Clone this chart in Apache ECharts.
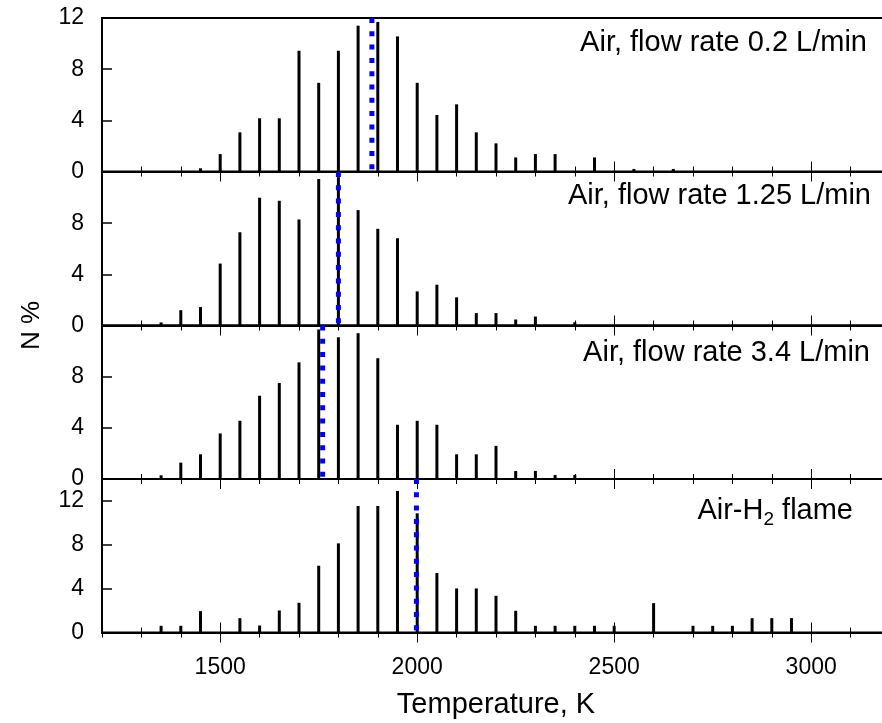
<!DOCTYPE html>
<html>
<head>
<meta charset="utf-8">
<script src="https://cdn.jsdelivr.net/npm/echarts@6/dist/echarts.min.js"></script>
<style>
html,body{margin:0;padding:0;background:#fff;overflow:hidden;}
#chart{width:900px;height:723px;}
</style>
</head>
<body>
<div id="chart"></div>
<script>
// Temperature bins (K)
const bins = [1350,1400,1450,1500,1550,1600,1650,1700,1750,1800,1850,1900,1950,2000,2050,2100,2150,2200,2250,2300,2350,2400,2450,2500,2550,2600,2650,2700,2750,2800,2850,2900,2950];
// N % per bin
const flow02 =  [0,0,0.25,1.36,3.06,4.16,4.16,9.44,6.93,9.44,11.4,11.69,10.56,6.93,4.42,5.25,3.06,2.2,1.1,1.36,1.36,0,1.1,0,0.2,0,0.2,0,0,0,0,0,0];
const flow125 = [0.24,1.2,1.44,4.84,7.29,9.99,9.75,8.29,11.45,11.6,9.02,7.56,6.82,2.67,3.19,2.2,0.97,0.97,0.47,0.7,0,0.26,0,0,0,0,0,0,0,0,0,0,0];
const flow34 =  [0.29,1.28,1.93,3.56,4.55,6.51,7.5,9.12,11.69,11.08,11.4,9.44,4.24,4.55,4.24,1.93,1.93,2.59,0.63,0.63,0.31,0.31,0,0,0,0,0,0,0,0,0,0,0];
const flameH2 = [0.61,0.61,1.95,0,1.31,0.64,2.01,2.71,6.09,8.13,11.54,11.54,12.91,10.87,5.42,4.02,4.02,3.35,1.98,0.61,0.61,0.61,0.61,0.61,0,2.68,0,0.61,0.61,0.61,1.31,1.31,1.31];
// Mean temperatures (blue dotted lines)
const means = [1885, 1800, 1760, 1998];
// Panel labels
const panelLabels = ['Air, flow rate 0.2 L/min', 'Air, flow rate 1.25 L/min', 'Air, flow rate 3.4 L/min', 'Air-H{sub|2} flame'];
// Axis settings
const yMax = [12, 12, 12, 14];
const yLabelsShown = [[0,4,8,12],[0,4,8],[0,4,8],[0,4,8,12]];
const xLabelValues = [1500, 2000, 2500, 3000];
const xMin = 1200, xMax = 3200;

const panels = [flow02, flow125, flow34, flameH2];
const FONT = 'Liberation Sans, Arial, sans-serif';
const tops = [18, 172, 325.5, 479];
const H = 153.5;
const labelRight = [867, 871, 870, 853];
const labelBase = [53, 205.7, 363.3, 521];

const chart = echarts.init(document.getElementById('chart'), null, {renderer: 'canvas'});

const grids = [], xAxes = [], yAxes = [], series = [], graphics = [];
for (let i = 0; i < 4; i++) {
  grids.push({left: 102, width: 788, top: tops[i], height: H, show: true, borderColor: '#000', borderWidth: 2, backgroundColor: 'transparent'});
  const base = {gridIndex: i, type: 'value', min: xMin, max: xMax, position: 'bottom', splitLine: {show: false}};
  xAxes.push(Object.assign({}, base, {
    interval: 100,
    axisLine: {show: true, onZero: false, lineStyle: {color: '#000', width: 2}},
    axisTick: {show: true, inside: true, length: 5, lineStyle: {color: '#000', width: 1}},
    axisLabel: {show: i === 3, fontFamily: FONT, fontSize: 23, color: '#000', margin: 24,
      formatter: v => xLabelValues.indexOf(v) >= 0 ? String(v) : ''},
    name: i === 3 ? 'Temperature, K' : '',
    nameLocation: 'middle', nameGap: 58,
    nameTextStyle: {fontFamily: FONT, fontSize: 29, color: '#000'}
  }));
  xAxes.push(Object.assign({}, base, {
    interval: 100,
    axisLine: {show: false, onZero: false},
    axisTick: {show: true, inside: false, length: 5, lineStyle: {color: '#000', width: 1}},
    axisLabel: {show: false}
  }));
  xAxes.push(Object.assign({}, base, {
    interval: 100,
    axisLine: {show: false, onZero: false},
    axisTick: {show: true, inside: true, length: 10, customValues: xLabelValues, lineStyle: {color: '#000', width: 1}},
    axisLabel: {show: false}
  }));
  xAxes.push(Object.assign({}, base, {
    interval: 100,
    axisLine: {show: false, onZero: false},
    axisTick: {show: true, inside: false, length: 10, customValues: xLabelValues, lineStyle: {color: '#000', width: 1}},
    axisLabel: {show: false}
  }));
  const shown = yLabelsShown[i];
  yAxes.push({
    gridIndex: i, type: 'value', min: 0, max: yMax[i], interval: 4,
    axisLine: {show: true, lineStyle: {color: '#000', width: 2}},
    axisTick: {show: true, inside: true, length: 10, lineStyle: {color: '#000', width: 1.5}},
    axisLabel: {fontFamily: FONT, fontSize: 23, color: '#000', margin: 18,
      formatter: v => shown.indexOf(v) >= 0 ? String(v) : ''},
    splitLine: {show: false}
  });
  const vals = panels[i];
  series.push({
    type: 'bar', xAxisIndex: i * 4, yAxisIndex: i, barWidth: 3,
    itemStyle: {color: '#000'}, silent: true,
    data: bins.map((t, k) => [t, vals[k]])
  });
  series.push({
    type: 'line', xAxisIndex: i * 4, yAxisIndex: i, symbol: 'none', z: 5, silent: true,
    lineStyle: {color: '#0000ff', width: 5, type: [5, 8.3]},
    data: [[means[i], yMax[i]], [means[i], 0]]
  });
  graphics.push({
    type: 'text', x: labelRight[i], y: labelBase[i] - 10, silent: true,
    style: {
      text: panelLabels[i], fill: '#000', fontFamily: FONT, fontSize: 29, lineHeight: 36,
      align: 'right', verticalAlign: 'middle',
      rich: {sub: {fontFamily: FONT, fontSize: 19, lineHeight: 12, verticalAlign: 'bottom', fill: '#000'}}
    }
  });
}
graphics.push({
  type: 'text', x: 32, y: 325.5, rotation: Math.PI / 2, silent: true,
  style: {text: 'N %', fill: '#000', fontFamily: FONT, fontSize: 26, align: 'center', verticalAlign: 'middle'}
});

chart.setOption({
  animation: false,
  backgroundColor: '#fff',
  grid: grids,
  xAxis: xAxes,
  yAxis: yAxes,
  series: series,
  graphic: graphics
});
</script>
</body>
</html>
